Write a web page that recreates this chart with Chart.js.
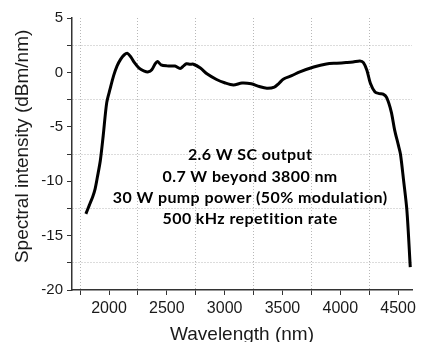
<!DOCTYPE html>
<html>
<head>
<meta charset="utf-8">
<script src="https://cdn.jsdelivr.net/npm/chart.js@4"></script>
<style>
  html, body { margin: 0; padding: 0; background: #fff; }
  #spec { display: block; }
</style>
</head>
<body>
<canvas id="spec" width="421" height="342"></canvas>
<script>
// ── Spectrum data ─────────────────────────────
const wavelength = [
  1800, 1830, 1860, 1880, 1900, 1925, 1950, 1980, 2010, 2040,
  2070, 2100, 2130, 2160, 2190, 2220, 2260, 2300, 2340, 2370,
  2400, 2420, 2450, 2500, 2570, 2615, 2645, 2670, 2700, 2730,
  2790, 2850, 2930, 3000, 3075, 3150, 3230, 3300, 3365, 3430,
  3470, 3510, 3580, 3650, 3770, 3880, 3970, 4050, 4110, 4170,
  4200, 4230, 4260, 4300, 4340, 4370, 4400, 4440, 4470, 4500,
  4520, 4547, 4576, 4605
];
const intensity = [
  -13.0, -12.2, -11.4, -10.7, -9.6, -8.1, -5.8, -2.8, -1.5, -0.3,
  0.6, 1.2, 1.6, 1.75, 1.4, 0.9, 0.4, 0.15, 0.05, 0.25,
  0.8, 1.0, 0.7, 0.6, 0.58, 0.35, 0.6, 0.8, 0.75, 0.75,
  0.4, -0.15, -0.65, -0.95, -1.15, -0.98, -1.05, -1.3, -1.45, -1.35,
  -1.0, -0.6, -0.3, 0.05, 0.5, 0.78, 0.85, 0.9, 0.95, 1.05,
  0.9, 0.2, -1.0, -1.8, -1.95, -2.0, -2.3, -3.6, -5.3, -6.6,
  -7.5, -9.9, -12.7, -17.9
];

const xTickLabels = [2000, 2500, 3000, 3500, 4000, 4500];
const yTickLabels = [5, 0, -5, -10, -15, -20];

const notes = [
  '2.6 W SC output',
  '0.7 W beyond 3800 nm',
  '30 W pump power (50% modulation)',
  '500 kHz repetition rate'
];

// ── Styling ───────────────────────────────────
const AXIS_FONT = "'Liberation Sans', Arial, sans-serif";
const INK       = '#1a1a1a';
const GRID      = '#b8b8b8';

// grid lines only sit halfway between labelled ticks
const isLabelled = (list, v) => list.some(t => Math.abs(t - v) < 1e-6);

// every labelled wavelength plus the unlabelled one before it
const xTicks = xTickLabels.flatMap(v => [v - 250, v]);

// text block in the middle of the plot + y axis title
const notesPlugin = {
  id: 'notes',
  afterDatasetsDraw(chart) {
    const { ctx, scales } = chart;
    const cx = scales.x.getPixelForValue(3220);
    let cy   = scales.y.getPixelForValue(-7.6);
    ctx.save();
    ctx.font          = "bold 16px Lato, 'Open Sans', sans-serif";
    ctx.letterSpacing = '0.4px';
    ctx.fillStyle     = '#000';
    ctx.textAlign     = 'center';
    ctx.textBaseline  = 'middle';
    notes.forEach(line => {
      ctx.fillText(line, cx, cy);
      cy += 21.3;
    });
    ctx.restore();

    ctx.save();
    ctx.translate(23, scales.y.getPixelForValue(-6.8));
    ctx.rotate(-Math.PI / 2);
    ctx.font         = '19px ' + AXIS_FONT;
    ctx.fillStyle    = INK;
    ctx.textAlign    = 'center';
    ctx.textBaseline = 'middle';
    ctx.fillText('Spectral intensity (dBm/nm)', 0, 0);
    ctx.restore();
  }
};

new Chart(document.getElementById('spec').getContext('2d'), {
  type: 'line',
  data: {
    datasets: [{
      data:             wavelength.map((w, i) => ({ x: w, y: intensity[i] })),
      borderColor:      '#000',
      borderWidth:      3,
      pointRadius:      0,
      tension:          0.3,
      fill:             false,
    }]
  },
  options: {
    responsive: false,
    animation:  false,
    layout:     { padding: { top: 18, right: 9, left: 0, bottom: 0 } },
    plugins:    { legend: { display: false }, tooltip: { enabled: false } },
    scales: {
      x: {
        type: 'linear',
        min:  1680,
        max:  4620,
        afterFit: s => { s.height = 52; },
        afterBuildTicks: s => { s.ticks = xTicks.map(v => ({ value: v })); },
        ticks: {
          autoSkip:    false,
          maxRotation: 0,
          padding:     4,
          color:       INK,
          font:        { family: AXIS_FONT, size: 16 },
          callback: v => isLabelled(xTickLabels, v) ? String(v) : ''
        },
        grid: {
          tickLength: 5,
          lineWidth:  1,
          color: ctx => isLabelled(xTickLabels, ctx.tick.value) ? 'rgba(0,0,0,0)' : GRID,
          tickColor: '#333',
        },
        border: { color: '#333', width: 1.5, dash: [1, 2] },
        title: {
          display: true,
          text:    'Wavelength (nm)',
          color:   INK,
          font:    { family: AXIS_FONT, size: 19, lineHeight: 1 },
          padding: { top: 0, bottom: -2 }
        }
      },
      y: {
        min: -20,
        max: 5,
        afterFit: s => { s.width = 72; },
        ticks: {
          stepSize: 2.5,
          autoSkip: false,
          padding:  4,
          color:    INK,
          font:     { family: AXIS_FONT, size: 15 },
          callback: v => isLabelled(yTickLabels, v) ? String(v) : ''
        },
        grid: {
          tickLength: 5,
          lineWidth:  1,
          color: ctx => isLabelled(yTickLabels, ctx.tick.value) ? 'rgba(0,0,0,0)' : GRID,
          tickColor: '#333',
        },
        border: { color: '#333', width: 1.5, dash: [1, 2] },
        title: { display: false }
      }
    }
  },
  plugins: [notesPlugin]
});
</script>
</body>
</html>
